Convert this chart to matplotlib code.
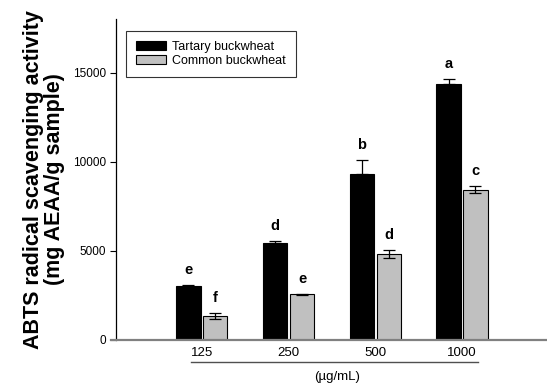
import numpy as np
import matplotlib.pyplot as plt
import matplotlib.transforms as mtransforms

plt.rcParams['font.family'] = ['Liberation Sans', 'DejaVu Sans']

concentrations = ["125", "250", "500", "1000"]
tartary = [3050, 5430, 9310, 14370]
tartary_err = [30, 130, 780, 240]
common = [1360, 2570, 4830, 8430]
common_err = [160, 30, 220, 190]
tartary_letters = ["e", "d", "b", "a"]
common_letters = ["f", "e", "d", "c"]

fig = plt.figure(figsize=(5.47, 3.86), dpi=100)
ax = fig.add_axes([116 / 547, 46 / 386, 431 / 547, 321 / 386])

x = np.arange(len(concentrations))
w = 0.28
gap = 0.015
ax.bar(x - w / 2 - gap, tartary, w, color="black", edgecolor="black", linewidth=0.8,
       label="Tartary buckwheat")
ax.bar(x + w / 2 + gap, common, w, color="#c0c0c0", edgecolor="black", linewidth=0.8,
       label="Common buckwheat")
ax.errorbar(x - w / 2 - gap, tartary, yerr=[np.zeros(4), tartary_err], fmt="none",
            ecolor="black", elinewidth=0.9, capsize=4, capthick=0.9)
ax.errorbar(x + w / 2 + gap, common, yerr=common_err, fmt="none",
            ecolor="black", elinewidth=0.9, capsize=4, capthick=0.9)

for xi, v, e, t in zip(x - w / 2 - gap, tartary, tartary_err, tartary_letters):
    ax.text(xi, v + e + 450, t, ha="center", va="bottom", fontsize=10.5, fontweight="bold")
for xi, v, e, t in zip(x + w / 2 + gap, common, common_err, common_letters):
    ax.text(xi, v + e + 450, t, ha="center", va="bottom", fontsize=10.5, fontweight="bold")

ax.set_xlim(-0.99, 3.98)
ax.set_ylim(0, 18000)
ax.set_yticks([0, 5000, 10000, 15000])
ax.tick_params(axis="y", direction="out", length=4, width=0.8, labelsize=8.5, pad=3)
ax.set_xticks(x)
ax.set_xticklabels(concentrations, fontsize=9.5)
ax.tick_params(axis="x", length=0, pad=5)

ax.spines["top"].set_visible(False)
ax.spines["right"].set_visible(False)
ax.spines["left"].set_color("black")
ax.spines["left"].set_linewidth(0.9)
ax.spines["bottom"].set_color("#808080")
ax.spines["bottom"].set_linewidth(1.6)
ax.spines["bottom"].set_bounds(-1.05, 3.98)

# underline beneath the concentration labels
trans = mtransforms.blended_transform_factory(ax.transData, fig.transFigure)
ax.plot([-0.13, 3.18], [1 - 362 / 386] * 2, transform=trans, color="#505050",
        linewidth=1, clip_on=False)
fig.text((201.5 + 461) / 2 / 547 + 0.01, 1 - 377 / 386, "(µg/mL)", ha="center",
         va="center", fontsize=9.5)

ax.set_ylabel("ABTS radical scavenging activity\n(mg AEAA/g sample)", fontsize=15.5,
              fontweight="bold", labelpad=6, linespacing=1.0)

leg = ax.legend(loc="upper left", bbox_to_anchor=(4 / 431, 1 - 6 / 321), fontsize=9,
                frameon=True, fancybox=False, edgecolor="black", handlelength=2.4,
                handleheight=0.75, borderpad=0.8, labelspacing=0.1, handletextpad=0.5)
leg.get_frame().set_linewidth(0.8)

fig.savefig("out.png", dpi=100)
